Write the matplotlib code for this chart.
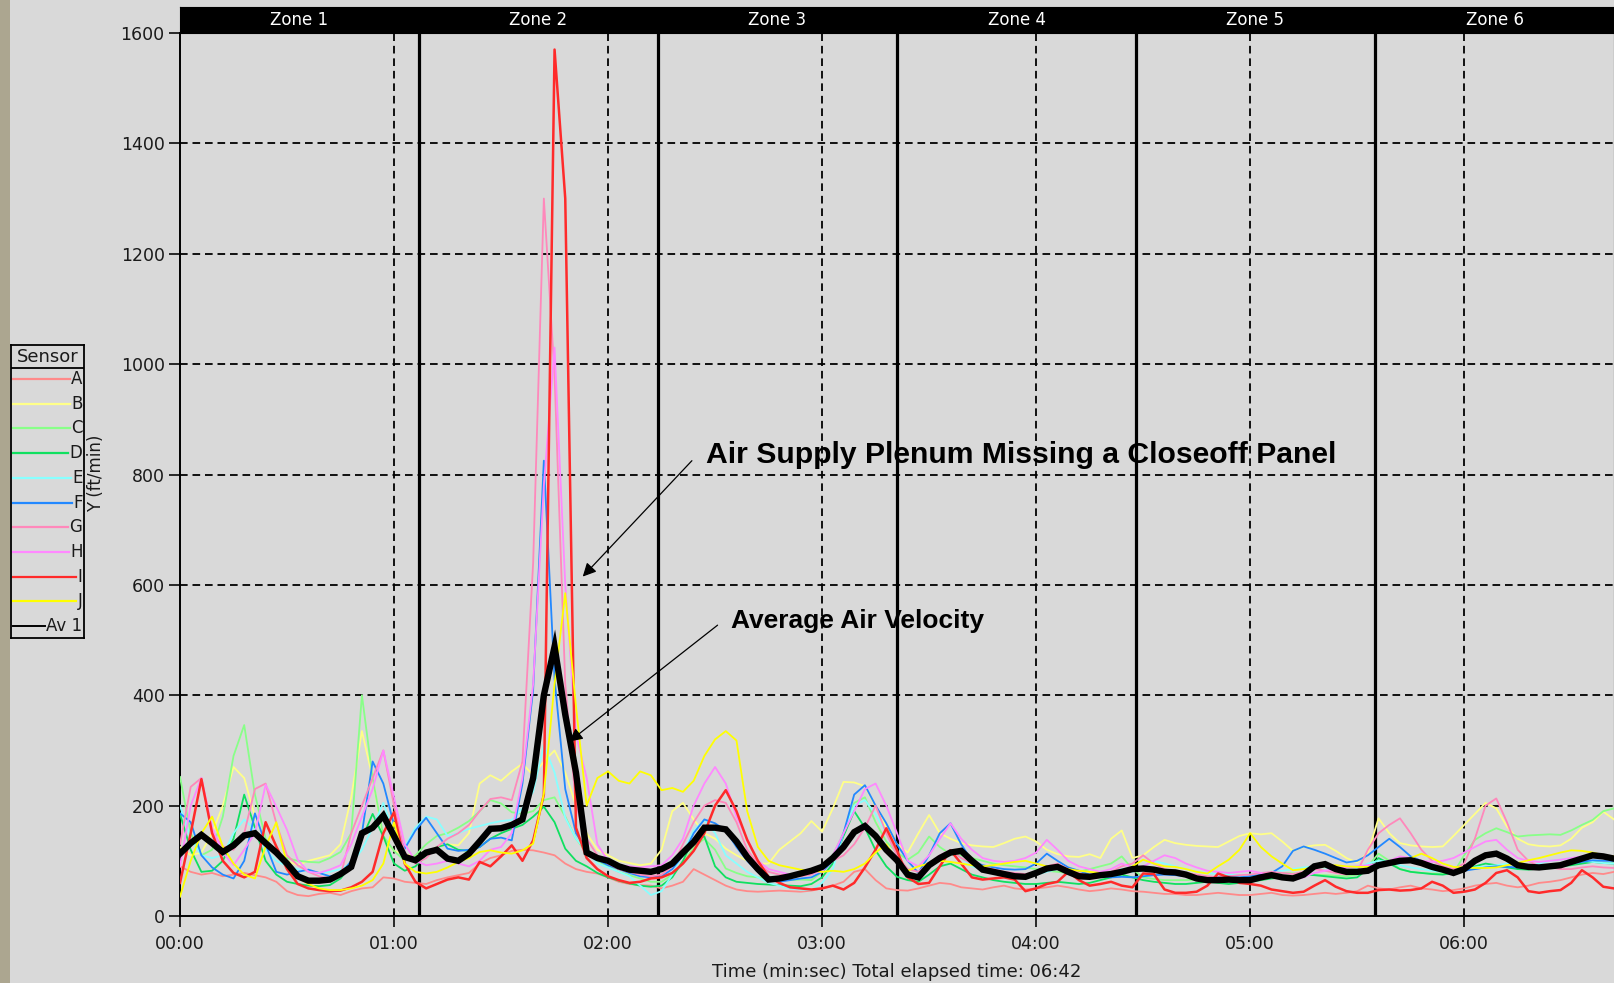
import numpy as np
import matplotlib
matplotlib.use('Agg')
import matplotlib.pyplot as plt
from matplotlib.patches import Rectangle

plt.rcParams['font.family'] = ['DejaVu Sans']
plt.rcParams['lines.scale_dashes'] = False

# ---------------- data ----------------
total_sec = 402
t_sec = np.arange(0, total_sec + 1, 3)          # sample times (s)
minute_ticks = [0, 60, 120, 180, 240, 300, 360]
minute_labels = ['00:00', '01:00', '02:00', '03:00', '04:00', '05:00', '06:00']
y_ticks = [0, 200, 400, 600, 800, 1000, 1200, 1400, 1600]
zone_labels = ['Zone 1', 'Zone 2', 'Zone 3', 'Zone 4', 'Zone 5', 'Zone 6']

sensor_names = ['A', 'B', 'C', 'D', 'E', 'F', 'G', 'H', 'I', 'J']
sensor_colors = ['#ff8a8a', '#ffff88', '#88ff88', '#10e060', '#88ffff',
                 '#2288ff', '#ff88bb', '#ff88ff', '#ff2a2a', '#ffff00']

A = [90, 80, 75, 78, 72, 75, 78, 74, 70, 62,
     45, 38, 36, 40, 42, 38, 45, 50, 52, 70,
     68, 62, 60, 58, 65, 70, 74, 78, 95, 105,
     110, 118, 120, 119, 115, 110, 95, 85, 80, 77,
     70, 62, 58, 56, 55, 50, 55, 62, 85, 75,
     65, 55, 48, 45, 44, 45, 46, 45, 44, 46,
     50, 55, 62, 80, 85, 65, 50, 47, 46, 50,
     55, 60, 58, 52, 50, 48, 52, 55, 50, 48,
     50, 52, 55, 52, 48, 45, 47, 50, 48, 45,
     44, 42, 40, 40, 38, 38, 40, 42, 40, 38,
     38, 40, 42, 38, 37, 38, 40, 42, 40, 42,
     45, 55, 50, 48, 52, 55, 50, 48, 45, 47,
     50, 55, 58, 60, 55, 52, 55, 60, 62, 65,
     70, 75, 78, 76, 80]
B = [125, 110, 115, 150, 200, 270, 250, 180, 135, 115,
     100, 92, 100, 105, 110, 130, 215, 335, 250, 140,
     118, 112, 108, 115, 125, 130, 128, 150, 240, 255,
     245, 262, 276, 255, 280, 300, 260, 200, 150, 120,
     110, 100, 96, 92, 95, 120, 190, 205, 175, 150,
     140, 122, 110, 100, 95, 95, 120, 135, 150, 172,
     153, 195, 243, 242, 235, 198, 160, 130, 115, 150,
     183, 150, 140, 132, 128, 126, 125, 132, 140, 144,
     135, 120, 112, 108, 107, 112, 105, 140, 155, 105,
     110, 125, 138, 132, 129, 127, 126, 125, 135, 145,
     150, 148, 150, 135, 118, 125, 128, 129, 118, 105,
     97, 115, 177, 150, 132, 128, 126, 125, 126, 145,
     165, 185, 205, 195, 162, 140, 130, 127, 126, 128,
     140, 160, 170, 189, 175]
C = [252, 150, 110, 120, 180, 290, 346, 220, 140, 115,
     105, 100, 98, 97, 105, 116, 150, 400, 250, 145,
     118, 100, 110, 130, 145, 150, 160, 172, 190, 210,
     204, 188, 185, 190, 210, 215, 180, 140, 115, 100,
     90, 80, 74, 68, 62, 62, 75, 95, 125, 140,
     120, 86, 78, 72, 70, 68, 66, 65, 66, 65,
     80, 110, 150, 205, 215, 170, 135, 115, 102, 115,
     144, 125, 112, 110, 105, 100, 95, 92, 90, 88,
     85, 82, 80, 78, 80, 85, 90, 95, 108, 85,
     70, 67, 65, 65, 65, 66, 65, 64, 66, 68,
     72, 75, 76, 78, 77, 76, 75, 74, 73, 72,
     75, 90, 113, 100, 85, 80, 78, 77, 77, 78,
     110, 138, 150, 159, 152, 144, 146, 147, 148, 147,
     155, 165, 174, 190, 195]
D = [185, 120, 80, 82, 100, 140, 220, 160, 100, 75,
     62, 58, 55, 54, 56, 68, 92, 140, 185, 144,
     95, 82, 90, 110, 125, 130, 120, 118, 125, 140,
     150, 158, 165, 180, 198, 170, 122, 100, 90, 78,
     70, 64, 59, 55, 53, 55, 70, 100, 140, 144,
     90, 70, 62, 60, 58, 57, 56, 55, 54, 58,
     70, 95, 145, 190, 160, 119, 90, 71, 65, 62,
     75, 90, 95, 85, 75, 70, 65, 62, 60, 58,
     58, 60, 62, 60, 58, 60, 65, 70, 75, 70,
     65, 62, 60, 58, 58, 60, 62, 60, 58, 60,
     62, 65, 68, 70, 72, 75, 74, 72, 70, 68,
     70, 85, 105, 95, 85, 80, 78, 76, 75, 78,
     85, 90, 95, 92, 88, 85, 84, 86, 88, 90,
     92, 95, 98, 96, 95]
E = [200, 140, 110, 105, 110, 150, 175, 156, 120, 100,
     90, 85, 80, 78, 80, 85, 95, 120, 160, 205,
     150, 125, 160, 180, 175, 145, 150, 158, 163, 168,
     172, 174, 195, 225, 310, 260, 178, 140, 118, 95,
     88, 80, 72, 55, 38, 45, 75, 115, 155, 174,
     150, 110, 95, 80, 70, 60, 55, 50, 48, 47,
     60, 85, 150, 200, 210, 185, 150, 110, 80, 70,
     90, 110, 120, 105, 90, 85, 80, 78, 75, 72,
     75, 80, 85, 80, 75, 72, 75, 80, 85, 80,
     90, 100, 95, 90, 85, 80, 78, 76, 75, 74,
     75, 78, 80, 82, 85, 88, 90, 88, 85, 82,
     85, 95, 100, 98, 92, 88, 85, 82, 80, 80,
     85, 88, 90, 92, 95, 92, 90, 95, 100, 102,
     105, 100, 98, 96, 95]
F = [186, 170, 110, 88, 75, 68, 100, 186, 130, 80,
     75, 80, 84, 78, 72, 75, 100, 150, 280, 240,
     165, 122, 155, 178, 150, 122, 118, 120, 125, 140,
     142, 137, 240, 410, 825, 430, 230, 150, 120, 102,
     92, 85, 78, 72, 70, 72, 85, 110, 150, 175,
     168, 155, 125, 100, 80, 65, 62, 65, 68, 70,
     80, 100, 150, 220, 237, 200, 168, 130, 100, 78,
     110, 150, 168, 130, 100, 92, 88, 85, 84, 85,
     95, 113, 100, 88, 82, 75, 72, 70, 71, 70,
     72, 74, 75, 74, 72, 71, 70, 71, 72, 70,
     72, 75, 78, 90, 118, 126, 120, 113, 105, 97,
     100, 110, 125, 140, 125, 108, 100, 90, 85, 80,
     82, 85, 88, 90, 89, 88, 89, 90, 90, 92,
     95, 98, 101, 100, 100]
G = [130, 234, 250, 150, 126, 120, 150, 230, 240, 168,
     110, 92, 80, 72, 68, 72, 150, 200, 250, 300,
     200, 115, 95, 105, 125, 140, 150, 165, 190, 212,
     215, 210, 280, 640, 1300, 980, 420, 200, 140, 110,
     95, 85, 80, 75, 72, 75, 90, 130, 170, 200,
     210, 205, 170, 120, 95, 80, 75, 72, 72, 75,
     85, 100, 110, 130, 160, 200, 150, 110, 85, 80,
     95, 110, 120, 105, 95, 88, 85, 80, 78, 76,
     80, 90, 95, 85, 78, 72, 75, 80, 90, 95,
     110, 95, 85, 80, 78, 75, 72, 70, 72, 74,
     75, 78, 80, 78, 76, 80, 85, 82, 78, 75,
     80, 120, 150, 165, 177, 150, 120, 100, 90, 85,
     95, 140, 200, 213, 170, 120, 100, 90, 88, 85,
     85, 88, 90, 88, 87]
Hs = [90, 200, 250, 160, 115, 92, 120, 150, 238, 198,
      156, 102, 80, 78, 84, 92, 130, 180, 230, 300,
      215, 130, 100, 92, 95, 100, 95, 90, 100, 120,
      125, 150, 250, 420, 780, 1030, 600, 330, 250, 130,
      100, 92, 90, 88, 90, 92, 110, 140, 200, 240,
      270, 240, 180, 140, 100, 85, 80, 75, 76, 78,
      80, 110, 150, 190, 230, 240, 200, 150, 100, 90,
      110, 140, 168, 140, 120, 105, 100, 98, 100, 105,
      115, 138, 120, 100, 90, 85, 80, 85, 95, 88,
      90, 100, 110, 105, 95, 88, 82, 80, 78, 80,
      82, 78, 72, 68, 65, 70, 78, 82, 85, 88,
      90, 92, 95, 100, 108, 105, 100, 98, 100, 105,
      115, 125, 135, 138, 120, 105, 100, 98, 100, 102,
      105, 108, 110, 108, 106]
I = [60, 150, 248, 150, 100, 78, 70, 80, 170, 126,
     85, 58, 50, 47, 45, 46, 52, 62, 80, 150,
     188, 95, 62, 50, 58, 66, 70, 66, 98, 90,
     108, 128, 100, 137, 220, 1570, 1300, 160, 105, 85,
     72, 65, 60, 62, 68, 70, 78, 95, 118, 150,
     200, 228, 190, 138, 100, 71, 60, 52, 50, 48,
     50, 55, 48, 60, 88, 120, 159, 119, 70, 58,
     60, 90, 119, 95, 70, 66, 68, 70, 66, 45,
     50, 58, 62, 80, 65, 55, 58, 62, 55, 52,
     77, 76, 48, 42, 42, 44, 55, 77, 70, 60,
     58, 55, 48, 45, 42, 44, 55, 65, 53, 45,
     42, 42, 47, 48, 46, 47, 50, 62, 55, 42,
     44, 48, 60, 78, 83, 70, 45, 42, 45, 47,
     60, 83, 70, 53, 50]
J = [35, 100, 150, 180, 126, 95, 75, 68, 126, 170,
     95, 70, 58, 50, 47, 47, 50, 55, 65, 95,
     170, 95, 80, 77, 80, 88, 98, 105, 116, 119,
     115, 113, 119, 131, 222, 420, 585, 380, 200, 250,
     262, 245, 240, 262, 255, 228, 232, 225, 245, 290,
     320, 335, 318, 190, 125, 100, 92, 88, 84, 82,
     80, 82, 80, 85, 95, 115, 130, 100, 82, 90,
     95, 100, 98, 95, 92, 90, 92, 95, 98, 100,
     95, 90, 88, 85, 82, 80, 78, 77, 77, 90,
     102, 95, 90, 89, 85, 80, 77, 90, 102, 120,
     150, 125, 108, 95, 83, 85, 88, 90, 92, 90,
     89, 89, 89, 95, 100, 105, 113, 105, 95, 89,
     88, 87, 87, 88, 92, 96, 101, 105, 110, 115,
     119, 118, 115, 110, 108]
Av1 = [113, 132, 147, 132, 116, 128, 146, 150, 132, 115,
       95, 72, 64, 64, 66, 76, 89, 150, 160, 182,
       145, 107, 101, 115, 120, 104, 100, 113, 135, 158,
       159, 165, 175, 250, 400, 488, 365, 260, 115, 105,
       100, 90, 84, 82, 80, 85, 95, 115, 134, 160,
       160, 157, 135, 107, 85, 66, 68, 72, 77, 82,
       89, 105, 125, 152, 163, 145, 120, 101, 75, 70,
       92, 105, 115, 118, 100, 84, 80, 76, 72, 71,
       78, 86, 89, 80, 72, 71, 74, 76, 80, 85,
       86, 84, 80, 79, 75, 68, 65, 65, 66, 65,
       65, 70, 74, 70, 68, 75, 90, 94, 85, 80,
       80, 82, 92, 96, 100, 101, 96, 89, 84, 78,
       85, 100, 110, 113, 104, 92, 89, 88, 90, 92,
       98, 104, 110, 108, 104]

sensor_values = [A, B, C, D, E, F, G, Hs, I, J]

# ---------------- figure ----------------
W, H = 1614, 983
BG = '#d9d9d9'
fig = plt.figure(figsize=(W / 100, H / 100), dpi=100, facecolor=BG)
fig.add_artist(Rectangle((0, 0), 10 / W, 1, transform=fig.transFigure,
                         facecolor='#aca690', edgecolor='none', zorder=0))

ax = fig.add_axes([180 / W, (H - 916) / H, (W - 180) / W, (916 - 33) / H])
ax.set_facecolor(BG)
ax.set_xlim(0, total_sec)
ax.set_ylim(0, 1600)

ax.spines['top'].set_visible(False)
ax.spines['right'].set_color('#9a9a9a')
ax.spines['right'].set_linewidth(1.0)
for s in ['left', 'bottom']:
    ax.spines[s].set_color('black')
    ax.spines[s].set_linewidth(1.4)

ax.set_yticks(y_ticks)
ax.set_xticks(minute_ticks)
ax.set_xticklabels(minute_labels)
ax.tick_params(axis='both', direction='out', length=8, width=1.3,
               labelsize=12.5, colors='#1a1a1a', pad=3)
ax.tick_params(axis='x', pad=6)

# dashed grid
for yv in y_ticks[1:-1]:
    ax.axhline(yv, color='black', lw=1.3, dashes=(5.5, 3.5), zorder=1)
for xv in minute_ticks[1:]:
    ax.axvline(xv, color='black', lw=1.3, dashes=(5.5, 3.5), zorder=1)

# zone boundaries
zone_w = total_sec / len(zone_labels)
for k in range(1, len(zone_labels)):
    ax.axvline(k * zone_w, color='black', lw=2.3, zorder=2)

# data
for name, col, vals in zip(sensor_names, sensor_colors, sensor_values):
    lw = 1.8 if name == 'I' else 1.3
    ax.plot(t_sec, vals, color=col, lw=lw, zorder=3)
ax.plot(t_sec, Av1, color='black', lw=4.6, zorder=5, solid_joinstyle='miter')

# annotations
ax.annotate('', xy=(112.9, 615), xytext=(143.5, 825),
            arrowprops=dict(arrowstyle='-|>', color='black', lw=0.9,
                            mutation_scale=20, shrinkA=0, shrinkB=0), zorder=6)
ax.annotate('', xy=(109.1, 316), xytext=(150.7, 527),
            arrowprops=dict(arrowstyle='-|>', color='black', lw=0.9,
                            mutation_scale=20, shrinkA=0, shrinkB=0), zorder=6)
ax.text(147.5, 836, 'Air Supply Plenum Missing a Closeoff Panel', fontsize=21.7,
        fontweight='bold', family='Liberation Sans', ha='left', va='center',
        color='black', zorder=7)
ax.text(154.5, 534, 'Average Air Velocity', fontsize=19,
        fontweight='bold', family='Liberation Sans', ha='left', va='center',
        color='black', zorder=7)

# zone header bar
bar = fig.add_axes([180 / W, (H - 33) / H, (W - 180) / W, 26 / H])
bar.set_facecolor('black')
bar.set_xlim(0, total_sec)
bar.set_ylim(0, 1)
bar.set_xticks([])
bar.set_yticks([])
for s in bar.spines.values():
    s.set_color('black')
for k, lab in enumerate(zone_labels):
    bar.text((k + 0.5) * zone_w, 0.5, lab, color='white', ha='center',
             va='center', fontsize=12)

# axis titles
fig.text(96 / W, 1 - 473 / H, 'Y (ft/min)', rotation=90, ha='center',
         va='center', fontsize=12, color='#1a1a1a')
fig.text(897 / W, 1 - 972 / H, 'Time (min:sec) Total elapsed time: 06:42',
         ha='center', va='center', fontsize=13, color='#1a1a1a')

# legend box (manual)
LW_, LH_ = 73, 293
lg = fig.add_axes([11 / W, (H - 638) / H, LW_ / W, LH_ / H])
lg.set_facecolor(BG)
lg.set_xlim(0, LW_)
lg.set_ylim(LH_, 0)
lg.set_xticks([])
lg.set_yticks([])
for s in lg.spines.values():
    s.set_color('black')
    s.set_linewidth(1.3)
lg.axhline(23, color='black', lw=1.3)
lg.text(LW_ / 2, 11.5, 'Sensor', ha='center', va='center', fontsize=13,
        color='#1a1a1a')
leg_names = sensor_names + ['Av 1']
leg_colors = sensor_colors + ['black']
texts = []
for i, (nm, col) in enumerate(zip(leg_names, leg_colors)):
    yy = 34 + 24.7 * i
    texts.append(lg.text(71.5, yy, nm, ha='right', va='center', fontsize=12,
                         color='#1a1a1a'))
fig.canvas.draw()
rend = fig.canvas.get_renderer()
inv = lg.transData.inverted()
for i, (txt, col) in enumerate(zip(texts, leg_colors)):
    bb = txt.get_window_extent(rend)
    x0 = inv.transform((bb.x0, bb.y0))[0]
    yy = 34 + 24.7 * i
    lg.plot([1.5, x0 - 1.5], [yy, yy], color=col, lw=1.6 if col != 'black' else 1.4)

fig.savefig('out.png', dpi=100, facecolor=BG)
